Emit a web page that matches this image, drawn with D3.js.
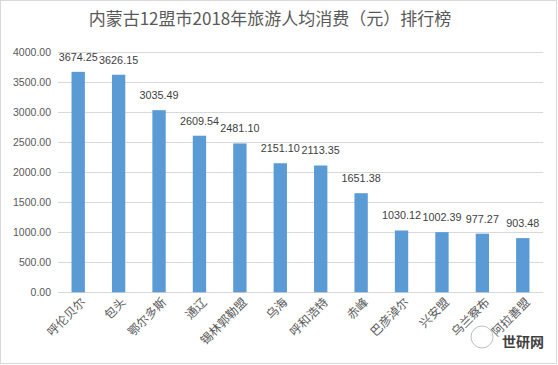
<!DOCTYPE html>
<html>
<head>
<meta charset="utf-8">
<script src="https://cdn.jsdelivr.net/npm/d3@7"></script>
<style>
  body { margin: 0; background: #fff; }
  svg { display: block; }
</style>
</head>
<body>
<svg width="558" height="365"></svg>
<script>
var cities = ["呼伦贝尔", "包头", "鄂尔多斯", "通辽", "锡林郭勒盟", "乌海",
              "呼和浩特", "赤峰", "巴彦淖尔", "兴安盟", "乌兰察布", "阿拉善盟"];
var spend = [3674.25, 3626.15, 3035.49, 2609.54, 2481.10, 2151.10,
             2113.35, 1651.38, 1030.12, 1002.39, 977.27, 903.48];
var yTicks = [0, 500, 1000, 1500, 2000, 2500, 3000, 3500, 4000];

var svg = d3.select("svg"),
    width = +svg.attr("width"),
    height = +svg.attr("height");

var font = "'Liberation Sans', 'Noto Sans CJK SC', sans-serif",
    cjk = "'Noto Sans CJK SC', sans-serif",
    txt = "#595959";

// outer frame
svg.append("rect")
  .attr("x", 0.5).attr("y", 0.5)
  .attr("width", width - 2).attr("height", height - 2)
  .attr("fill", "#fff").attr("stroke", "#d9d9d9");

svg.append("text")
  .attr("x", 270).attr("y", 25)
  .attr("text-anchor", "middle")
  .style("font-family", cjk).style("font-size", "17px")
  .style("fill", txt)
  .text("内蒙古12盟市2018年旅游人均消费（元）排行榜");

var x = d3.scaleBand()
  .domain(cities)
  .range([58, 543])
  .paddingInner(0.67)
  .paddingOuter(0.335);

var y = d3.scaleLinear()
  .domain([0, 4000])
  .range([292.3, 52.3]);

// grid
svg.append("g").selectAll("line")
  .data(yTicks)
  .enter().append("line")
    .attr("x1", 58).attr("x2", 543)
    .attr("y1", function(d) { return Math.round(y(d)) + 0.5; })
    .attr("y2", function(d) { return Math.round(y(d)) + 0.5; })
    .attr("stroke", "#d9d9d9");

// y labels
svg.append("g").selectAll("text")
  .data(yTicks)
  .enter().append("text")
    .attr("x", 51)
    .attr("y", function(d) { return y(d); })
    .attr("dy", "0.35em")
    .attr("text-anchor", "end")
    .style("font-family", font).style("font-size", "10.5px")
    .style("fill", txt)
    .text(function(d) { return d3.format(".2f")(d); });

// bars
svg.append("g").selectAll("rect")
  .data(spend)
  .enter().append("rect")
    .attr("x", function(d, i) { return x(cities[i]); })
    .attr("width", x.bandwidth())
    .attr("y", function(d) { return y(d); })
    .attr("height", function(d) { return y(0) - y(d); })
    .attr("fill", "#5b9bd5");

// value labels
svg.append("g").selectAll("text")
  .data(spend)
  .enter().append("text")
    .attr("x", function(d, i) { return x(cities[i]) + x.bandwidth() / 2; })
    .attr("y", function(d) { return y(d) - 11; })
    .attr("text-anchor", "middle")
    .style("font-family", font).style("font-size", "10.8px")
    .style("fill", "#404040")
    .text(function(d) { return d3.format(".2f")(d); });

// category labels
svg.append("g").selectAll("text")
  .data(cities)
  .enter().append("text")
    .attr("transform", function(d) {
      return "translate(" + (x(d) + x.bandwidth() / 2 + 5) + ",300) rotate(-45)";
    })
    .attr("text-anchor", "end")
    .attr("dy", "0.35em")
    .style("font-family", cjk).style("font-size", "12px")
    .style("fill", txt)
    .text(function(d) { return d; });

// watermark
var wm = svg.append("g");
wm.append("circle")
  .attr("cx", 482).attr("cy", 337).attr("r", 11)
  .attr("fill", "none").attr("stroke", "#bfbfbf");
wm.append("text")
  .attr("x", 502).attr("y", 347)
  .style("font-family", cjk).style("font-size", "14px")
  .style("font-weight", "bold")
  .style("fill", "#404040")
  .text("世研网");
</script>
</body>
</html>
